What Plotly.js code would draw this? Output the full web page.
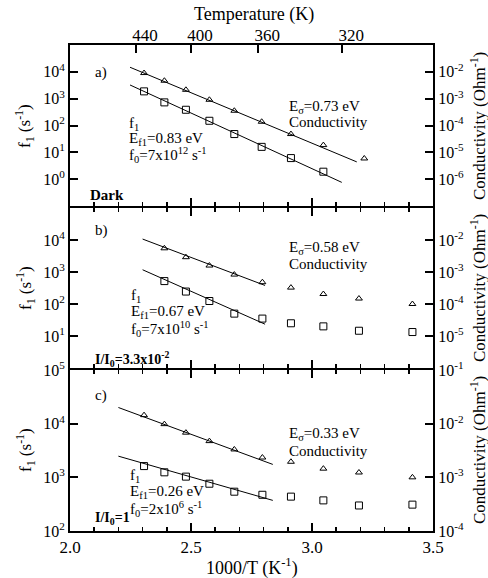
<!DOCTYPE html>
<html><head><meta charset="utf-8">
<script src="https://cdn.plot.ly/plotly-3.0.1.min.js"></script>
<style>body{margin:0;background:#fff}#c{width:488px;height:578px}</style>
</head><body><div id="c"></div>
<script>
// ---- data ----
// panel a (Dark)
const aCondX = [2.306, 2.390, 2.479, 2.576, 2.679, 2.792, 2.913, 3.047, 3.216];
const aCond  = [9.0e-3, 4.66e-3, 2.14e-3, 9.1e-4, 3.55e-4, 1.38e-4, 4.8e-5, 1.86e-5, 5.9e-6];
const aF1X   = [2.306, 2.390, 2.479, 2.576, 2.679, 2.792, 2.913, 3.047];
const aF1    = [1870, 727, 386, 150, 48, 16, 6.1, 1.9];
const aCondFitX = [2.248, 3.185], aCondFit = [1.48e-2, 4.4e-6];
const aF1FitX   = [2.248, 3.123], aF1Fit   = [3240, 0.76];
// panel b (I/I0 = 3.3e-2)
const bX     = [2.390, 2.479, 2.576, 2.679, 2.795, 2.913, 3.047, 3.194, 3.415];
const bCond  = [5.5e-3, 2.9e-3, 1.59e-3, 8.3e-4, 4.8e-4, 3.25e-4, 2.05e-4, 1.48e-4, 1.0e-4];
const bF1    = [520, 245, 124, 50, 35, 25, 20, 14.6, 13.3];
const bCondFitX = [2.30, 2.806], bCondFit = [1.07e-2, 3.8e-4];
const bF1FitX   = [2.30, 2.806], bF1Fit   = [1175, 23.4];
// panel c (I/I0 = 1)
const cX     = [2.306, 2.390, 2.479, 2.576, 2.679, 2.795, 2.913, 3.047, 3.194, 3.415];
const cCond  = [1.44e-2, 9.8e-3, 6.8e-3, 4.73e-3, 3.31e-3, 2.34e-3, 1.95e-3, 1.45e-3, 1.23e-3, 1.0e-3];
const cF1    = [1620, 1240, 1030, 760, 540, 473, 437, 372, 299, 310];
const cCondFitX = [2.20, 2.838], cCondFit = [2.0e-2, 1.74e-3];
const cF1FitX   = [2.20, 2.838], cF1Fit   = [2480, 372];
// axis ticks
const tempLabels = [440, 400, 360, 320];
const xTicks = [2.0, 2.5, 3.0, 3.5];
const aLeftTicks = [0,1,2,3,4], aRightTicks = [-6,-5,-4,-3,-2];
const bLeftTicks = [1,2,3,4],   bRightTicks = [-5,-4,-3,-2];
const cLeftTicks = [2,3,4,5],   cRightTicks = [-4,-3,-2,-1];

// ---- helpers ----
const FONT = 'Liberation Serif, Times New Roman, serif';
const X0=70, X1=433, Y0=45, Y1=531;
const px = x => (x-X0)/(X1-X0);
const py = y => (Y1-y)/(Y1-Y0);
const pw = e => '10<sup>'+e+'</sup>';
// panel domains (a 2px gap so that the 2px border lines of adjacent panels coincide)
const domA = [py(206), 1], domB = [py(368), py(208)], domC = [0, py(370)];

function yAx(dom, rng, exps, side, overlay, anchor){
  const o = {type:'log', domain:dom, range:rng, anchor:anchor,
    tickvals: exps.map(e=>Math.pow(10,e)), ticktext: exps.map(pw),
    ticks:'inside', ticklen:8, tickwidth:2, tickcolor:'#000',
    showline:true, linewidth:2, linecolor:'#000', showgrid:false, zeroline:false,
    tickfont:{family:FONT, size:16, color:'#000'}, side:side};
  if (overlay) o.overlaying = overlay;
  return o;
}
function xAx(anchor, labels, mirror){
  return {range:[2,3.5], anchor:anchor, domain:[0,1],
    tickvals: xTicks, ticktext: xTicks.map(v=>v.toFixed(1)), showticklabels: labels,
    ticks:'inside', ticklen:8, tickwidth:2, tickcolor:'#000',
    minor:{dtick:0.1, ticks:'inside', ticklen:4, tickwidth:1.5, tickcolor:'#000'},
    showline:true, linewidth:2, linecolor:'#000', mirror:mirror, showgrid:false, zeroline:false,
    tickfont:{family:FONT, size:17, color:'#000'}};
}

const tri = {symbol:'triangle-up-open', size:6, color:'#000', line:{width:1, color:'#000'}};
const sq  = {symbol:'square-open', size:7, color:'#000', line:{width:1, color:'#000'}};
const ln  = {color:'#000', width:1};

const traces = [
  {x:aCondX, y:aCond, xaxis:'x3', yaxis:'y2', mode:'markers', marker:tri},
  {x:aCondFitX, y:aCondFit, xaxis:'x3', yaxis:'y2', mode:'lines', line:ln},
  {x:aF1X, y:aF1, xaxis:'x3', yaxis:'y', mode:'markers', marker:sq},
  {x:aF1FitX, y:aF1Fit, xaxis:'x3', yaxis:'y', mode:'lines', line:ln},

  {x:bX, y:bCond, xaxis:'x2', yaxis:'y4', mode:'markers', marker:tri},
  {x:bCondFitX, y:bCondFit, xaxis:'x2', yaxis:'y4', mode:'lines', line:ln},
  {x:bX, y:bF1, xaxis:'x2', yaxis:'y3', mode:'markers', marker:sq},
  {x:bF1FitX, y:bF1Fit, xaxis:'x2', yaxis:'y3', mode:'lines', line:ln},

  {x:cX, y:cCond, xaxis:'x', yaxis:'y6', mode:'markers', marker:tri},
  {x:cCondFitX, y:cCondFit, xaxis:'x', yaxis:'y6', mode:'lines', line:ln},
  {x:cX, y:cF1, xaxis:'x', yaxis:'y5', mode:'markers', marker:sq},
  {x:cF1FitX, y:cF1Fit, xaxis:'x', yaxis:'y5', mode:'lines', line:ln},
  // empty trace so the top temperature axis gets drawn
  {x:[], y:[], xaxis:'x4', yaxis:'y', mode:'markers', hoverinfo:'skip'},
];

function ann(x, y, text, opts){
  return Object.assign({xref:'paper', yref:'paper', x:px(x), y:py(y), text:text,
    showarrow:false, xanchor:'left', yanchor:'middle',
    font:{family:FONT, size:15, color:'#000'}}, opts||{});
}
const centers = [126, 288, 450];
const annotations = [
  ann(254, 14, 'Temperature (K)', {xanchor:'center', font:{family:FONT, size:18, color:'#000'}}),
  ann(252, 567, '1000/T (K<sup>-1</sup>)', {xanchor:'center', font:{family:FONT, size:18, color:'#000'}}),
  // panel a
  ann(93, 72, 'a)'),
  ann(127, 124, 'f<sub>1</sub>'),
  ann(127, 139, 'E<sub>f1</sub>=0.83 eV'),
  ann(127, 155, 'f<sub>0</sub>=7x10<sup>12</sup> s<sup>-1</sup>'),
  ann(287, 107, 'E<sub>σ</sub>=0.73 eV'),
  ann(287, 122, 'Conductivity'),
  ann(88, 195, '<b>Dark</b>'),
  // panel b
  ann(93, 230, 'b)'),
  ann(129, 296, 'f<sub>1</sub>'),
  ann(129, 312, 'E<sub>f1</sub>=0.67 eV'),
  ann(129, 329, 'f<sub>0</sub>=7x10<sup>10</sup> s<sup>-1</sup>'),
  ann(287, 248, 'E<sub>σ</sub>=0.58 eV'),
  ann(287, 264, 'Conductivity'),
  ann(93, 359, '<b>I/I<sub>0</sub>=3.3x10<sup>-2</sup></b>', {font:{family:FONT, size:14, color:'#000'}}),
  // panel c
  ann(93, 395, 'c)'),
  ann(128, 476, 'f<sub>1</sub>'),
  ann(128, 492, 'E<sub>f1</sub>=0.26 eV'),
  ann(128, 509, 'f<sub>0</sub>=2x10<sup>6</sup> s<sup>-1</sup>'),
  ann(287, 434, 'E<sub>σ</sub>=0.33 eV'),
  ann(287, 451, 'Conductivity'),
  ann(93, 518, '<b>I/I<sub>0</sub>=1</b>', {font:{family:FONT, size:14, color:'#000'}}),
];
centers.forEach(c => {
  annotations.push(ann(25, c, 'f<sub>1</sub> (s<sup>-1</sup>)', {xanchor:'center', textangle:-90, font:{family:FONT, size:17, color:'#000'}}));
  annotations.push(ann(478, c, 'Conductivity (Ohm<sup>-1</sup>)', {xanchor:'center', textangle:-90, font:{family:FONT, size:17, color:'#000'}}));
});

const layout = {
  width:488, height:578, margin:{l:70, r:55, t:45, b:47},
  paper_bgcolor:'#fff', plot_bgcolor:'#fff', showlegend:false,
  font:{family:FONT, color:'#000'},
  xaxis: xAx('y5', true, 'ticks'),
  xaxis2: Object.assign(xAx('y3', false, 'ticks'), {matches:'x'}),
  xaxis3: Object.assign(xAx('y', false, true), {matches:'x'}),
  xaxis4: {range:[2,3.5], overlaying:'x3', anchor:'y', side:'top',
    tickvals: tempLabels.map(t=>1000/t), ticktext: tempLabels.map(String),
    ticks:'inside', ticklen:8, tickwidth:2, tickcolor:'#000', ticklabelshift:9,
    showline:false, showgrid:false, zeroline:false,
    tickfont:{family:FONT, size:17, color:'#000'}},
  yaxis:  yAx(domA, [-1,5], aLeftTicks, 'left', null, 'x3'),
  yaxis2: yAx(domA, [-7,-1], aRightTicks, 'right', 'y', 'x3'),
  yaxis3: yAx(domB, [0,5], bLeftTicks, 'left', null, 'x2'),
  yaxis4: yAx(domB, [-6,-1], bRightTicks, 'right', 'y3', 'x2'),
  yaxis5: yAx(domC, [2,5], cLeftTicks, 'left', null, 'x'),
  yaxis6: yAx(domC, [-4,-1], cRightTicks, 'right', 'y5', 'x'),
  annotations: annotations
};
Plotly.newPlot('c', traces, layout, {staticPlot:true, displayModeBar:false});
</script></body></html>
